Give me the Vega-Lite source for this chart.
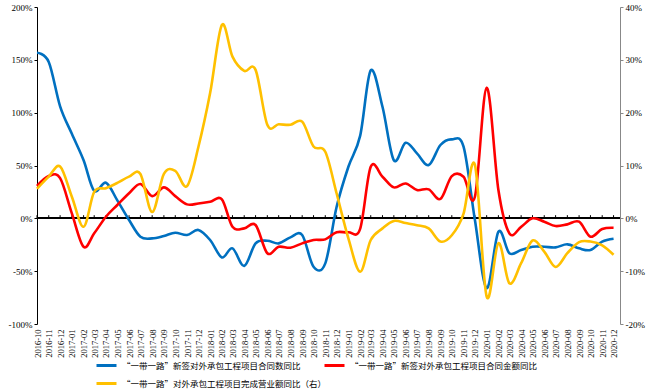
{
  "$schema": "https://vega.github.io/schema/vega-lite/v6.json",
  "autosize": "none",
  "width": 583,
  "height": 317,
  "padding": {"left": 37, "top": 7, "right": 31, "bottom": 68},
  "background": "white",
  "config": {
    "view": {"stroke": null},
    "axis": {"labelFont": "Liberation Serif", "labelFontSize": 9, "labelColor": "#000", "grid": false, "title": null},
    "legend": {"labelFont": "Noto Sans CJK SC", "labelFontSize": 8.5, "labelColor": "#000"}
  },
  "data": {
    "values": [
      {"month": "2016-10-01", "count": 156.7, "amount": 30.6, "revenue": 5.6},
      {"month": "2016-11-01", "count": 148, "amount": 40, "revenue": 7.9},
      {"month": "2016-12-01", "count": 106, "amount": 38, "revenue": 9.8},
      {"month": "2017-01-01", "count": 80, "amount": 4.7, "revenue": 4.1},
      {"month": "2017-02-01", "count": 55, "amount": -26.9, "revenue": -1.6},
      {"month": "2017-03-01", "count": 26, "amount": -14.2, "revenue": 5.0},
      {"month": "2017-04-01", "count": 33.7, "amount": 1.5, "revenue": 5.7},
      {"month": "2017-05-01", "count": 17, "amount": 12.6, "revenue": 6.7},
      {"month": "2017-06-01", "count": -1.6, "amount": 23.7, "revenue": 7.9},
      {"month": "2017-07-01", "count": -17.4, "amount": 32.5, "revenue": 8.4},
      {"month": "2017-08-01", "count": -19, "amount": 21, "revenue": 1.2},
      {"month": "2017-09-01", "count": -16.7, "amount": 29.3, "revenue": 8.4},
      {"month": "2017-10-01", "count": -13.6, "amount": 21, "revenue": 9.0},
      {"month": "2017-11-01", "count": -15.8, "amount": 13.2, "revenue": 6.1},
      {"month": "2017-12-01", "count": -11, "amount": 14, "revenue": 13.5},
      {"month": "2018-01-01", "count": -20.5, "amount": 15.7, "revenue": 23.7},
      {"month": "2018-02-01", "count": -37, "amount": 18, "revenue": 36.6},
      {"month": "2018-03-01", "count": -28.4, "amount": -8, "revenue": 30.6},
      {"month": "2018-04-01", "count": -45, "amount": -9.5, "revenue": 27.9},
      {"month": "2018-05-01", "count": -23.7, "amount": -6.3, "revenue": 28.1},
      {"month": "2018-06-01", "count": -21.2, "amount": -33, "revenue": 17.7},
      {"month": "2018-07-01", "count": -23.7, "amount": -26.9, "revenue": 17.8},
      {"month": "2018-08-01", "count": -18, "amount": -27.8, "revenue": 17.7},
      {"month": "2018-09-01", "count": -15.8, "amount": -23.7, "revenue": 18.3},
      {"month": "2018-10-01", "count": -45.8, "amount": -20.5, "revenue": 13.6},
      {"month": "2018-11-01", "count": -42.6, "amount": -19.9, "revenue": 12.6},
      {"month": "2018-12-01", "count": 11, "amount": -13.2, "revenue": 4.7},
      {"month": "2019-01-01", "count": 48.8, "amount": -13.2, "revenue": -3.8},
      {"month": "2019-02-01", "count": 78, "amount": -10, "revenue": -10.1},
      {"month": "2019-03-01", "count": 140, "amount": 48.8, "revenue": -4.1},
      {"month": "2019-04-01", "count": 105.6, "amount": 39.4, "revenue": -1.9},
      {"month": "2019-05-01", "count": 55, "amount": 29.3, "revenue": -0.5},
      {"month": "2019-06-01", "count": 71.5, "amount": 33, "revenue": -0.9},
      {"month": "2019-07-01", "count": 61.5, "amount": 26.8, "revenue": -1.3},
      {"month": "2019-08-01", "count": 50.4, "amount": 27.4, "revenue": -1.9},
      {"month": "2019-09-01", "count": 69.4, "amount": 18.3, "revenue": -4.4},
      {"month": "2019-10-01", "count": 74.7, "amount": 40, "revenue": -3.2},
      {"month": "2019-11-01", "count": 67.8, "amount": 39.4, "revenue": 0.9},
      {"month": "2019-12-01", "count": -1.6, "amount": 20.4, "revenue": 10.1},
      {"month": "2020-01-01", "count": -66, "amount": 123.5, "revenue": -14.8},
      {"month": "2020-02-01", "count": -12.7, "amount": 26.8, "revenue": -4.7},
      {"month": "2020-03-01", "count": -33, "amount": -14.2, "revenue": -12.3},
      {"month": "2020-04-01", "count": -30, "amount": -8, "revenue": -8.5},
      {"month": "2020-05-01", "count": -26.9, "amount": 0, "revenue": -4.2},
      {"month": "2020-06-01", "count": -26.9, "amount": -3.2, "revenue": -6.3},
      {"month": "2020-07-01", "count": -27.5, "amount": -7.3, "revenue": -9.2},
      {"month": "2020-08-01", "count": -24.6, "amount": -5.7, "revenue": -6.6},
      {"month": "2020-09-01", "count": -28.4, "amount": -3.2, "revenue": -4.5},
      {"month": "2020-10-01", "count": -30, "amount": -17.4, "revenue": -4.4},
      {"month": "2020-11-01", "count": -22, "amount": -10.1, "revenue": -5.1},
      {"month": "2020-12-01", "count": -19.3, "amount": -8.9, "revenue": -6.9}
    ]
  },
  "encoding": {
    "x": {
      "field": "month",
      "type": "temporal",
      "scale": {"type": "utc", "domain": [{"year": 2016, "month": 10, "date": 1, "utc": true}, {"year": 2020, "month": 12, "date": 18, "utc": true}], "nice": false},
      "axis": {"format": "%Y-%m", "labelAngle": 270, "labelFontSize": 8.5, "labelPadding": 5, "domain": false, "ticks": false, "tickCount": {"interval": "month", "step": 1}, "labelOverlap": false, "labelBound": false, "labelFlush": false}
    }
  },
  "layer": [
    {
      "encoding": {
        "y": {
          "type": "quantitative",
          "scale": {"domain": [-100, 200], "nice": false},
          "axis": {"values": [-100, -50, 0, 50, 100, 150, 200], "labelExpr": "datum.value + '%'", "domainColor": "#000", "tickColor": "#000", "tickSize": 3, "labelPadding": 2}
        }
      },
      "layer": [
        {
          "mark": {"type": "rule", "color": "#000", "strokeWidth": 1.3},
          "encoding": {"y": {"datum": 0}, "x": null}
        },
        {
          "mark": {"type": "rule", "color": "#000", "strokeWidth": 1},
          "encoding": {"y": {"datum": 0}, "y2": {"datum": 3}}
        },
        {
          "transform": [{"fold": ["count", "amount"], "as": ["series", "value"]}],
          "mark": {"type": "line", "interpolate": "cardinal", "strokeWidth": 2.6},
          "encoding": {
            "y": {"field": "value", "type": "quantitative"},
            "color": {
              "field": "series",
              "type": "nominal",
              "scale": {"domain": ["count", "amount", "revenue"], "range": ["#0070C0", "#FF0000", "#FFC000"]},
              "legend": {
                "title": null,
                "orient": "none",
                "legendX": 58,
                "legendY": 347,
                "direction": "horizontal",
                "columns": 2,
                "gridAlign": "none",
                "columnPadding": -9,
                "rowPadding": 0,
                "symbolType": "stroke",
                "symbolSize": 400,
                "symbolStrokeWidth": 3,
                "labelOffset": 4,
                "labelLimit": 400,
                "labelExpr": "datum.label == 'count' ? '“一带一路”新签对外承包工程项目合同数同比' : datum.label == 'amount' ? '“一带一路”新签对外承包工程项目合同金额同比' : '“一带一路”对外承包工程项目完成营业额同比（右）'"
              }
            }
          }
        }
      ]
    },
    {
      "transform": [{"fold": ["revenue"], "as": ["series", "value"]}],
      "mark": {"type": "line", "interpolate": "cardinal", "strokeWidth": 2.6},
      "encoding": {
        "y": {
          "field": "value",
          "type": "quantitative",
          "scale": {"domain": [-20, 40], "nice": false},
          "axis": {"orient": "right", "values": [-20, -10, 0, 10, 20, 30, 40], "labelExpr": "datum.value + '%'", "domainColor": "#888", "tickColor": "#888", "tickSize": 3, "labelPadding": 2}
        },
        "color": {"field": "series", "type": "nominal"}
      }
    }
  ],
  "resolve": {"scale": {"y": "independent"}}
}
